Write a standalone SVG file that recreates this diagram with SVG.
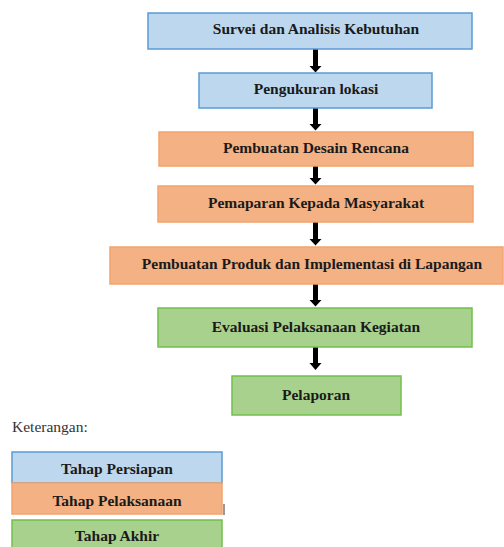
<svg xmlns="http://www.w3.org/2000/svg" width="504" height="547" viewBox="0 0 504 547">
<defs>
<style>
.blue{fill:#BDD7EE;stroke:#5B9BD5;stroke-width:1.5}
.orange{fill:#F4B183;stroke:#F4A46E;stroke-width:1.5}
.green{fill:#A9D18E;stroke:#70C04A;stroke-width:1.5}
.t{font-family:"Liberation Serif",serif;font-weight:bold;font-size:15.5px;fill:#1a1a1a;text-anchor:middle}
.arr{fill:#000}
</style>
</defs>
<rect width="504" height="547" fill="#fff"/>
<g id="connectors">
<path class="arr" d="M313,49h5v17h3.5l-6,6.5l-6,-6.5h3.5z"/>
<path class="arr" d="M313,108h5v16h3.5l-6,6.5l-6,-6.5h3.5z"/>
<path class="arr" d="M313,166h5v12h3.5l-6,6.5l-6,-6.5h3.5z"/>
<path class="arr" d="M313,222h5v17h3.5l-6,6.5l-6,-6.5h3.5z"/>
<path class="arr" d="M313,284h5v16h3.5l-6,6.5l-6,-6.5h3.5z"/>
<path class="arr" d="M313,347h5v16h3.5l-6,7l-6,-7h3.5z"/>
</g>
<g id="n1"><rect class="blue" x="148" y="13" width="324" height="36"/><text class="t" x="316" y="34">Survei dan Analisis Kebutuhan</text></g>
<g id="n2"><rect class="blue" x="199" y="73" width="233" height="35"/><text class="t" x="316" y="94">Pengukuran lokasi</text></g>
<g id="n3"><rect class="orange" x="159" y="132" width="314" height="34"/><text class="t" x="316" y="153">Pembuatan Desain Rencana</text></g>
<g id="n4"><rect class="orange" x="158" y="186" width="315" height="36"/><text class="t" x="316" y="208">Pemaparan Kepada Masyarakat</text></g>
<g id="n5"><rect class="orange" x="110" y="247" width="393" height="37"/><text class="t" x="312" y="269">Pembuatan Produk dan Implementasi di Lapangan</text></g>
<g id="n6"><rect class="green" x="158" y="308" width="314" height="39"/><text class="t" x="316" y="332">Evaluasi Pelaksanaan Kegiatan</text></g>
<g id="n7"><rect class="green" x="232" y="376" width="169" height="39"/><text class="t" x="316" y="400">Pelaporan</text></g>
<g id="legend">
<text x="12" y="432" style="font-family:'Liberation Serif',serif;font-size:15.5px;fill:#333">Keterangan:</text>
<g id="l1"><rect class="blue" x="12" y="452" width="210" height="31"/><text class="t" x="117" y="474">Tahap Persiapan</text></g>
<g id="l2"><rect class="orange" x="12" y="483" width="210" height="31"/><text class="t" x="117" y="506">Tahap Pelaksanaan</text></g>
<line x1="224" y1="504" x2="224" y2="515" stroke="#333" stroke-width="1"/>
<g id="l3"><rect class="green" x="12" y="520" width="210" height="30"/><text class="t" x="117" y="541">Tahap Akhir</text></g>
</g>
</svg>
